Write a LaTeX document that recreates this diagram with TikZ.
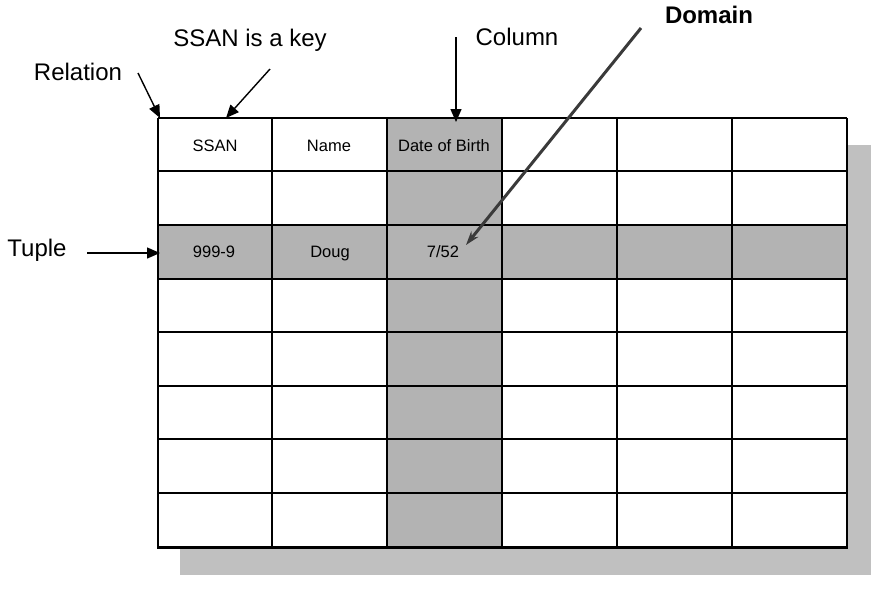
\documentclass[tikz,border=0pt]{standalone}
\usepackage{fontspec}
\setmainfont{Liberation Sans}
\usetikzlibrary{arrows.meta,calc}
\definecolor{cellGray}{HTML}{B3B3B3}
\definecolor{shadowGray}{HTML}{C0C0C0}
\definecolor{domColor}{HTML}{3A3A3A}
\newcommand{\celltext}{\fontsize{16.5}{18}\selectfont}
\newcommand{\labtext}{\fontsize{24}{28}\selectfont}

\begin{document}
\begin{tikzpicture}[x=1pt,y=-1pt,>={Triangle[length=13pt,width=11pt]},
 line width=1.4pt,
 grid/.style={line width=1.6pt},
 lab/.style={font=\labtext,inner sep=0pt},
 cell/.style={font=\celltext,inner sep=0pt,anchor=base}]
\useasboundingbox (0,0) rectangle (893,595);
% shadow and shaded cells
\fill[shadowGray] (180,145) rectangle (871,575);
\fill[white] (158,118) rectangle (847,547);
\fill[cellGray] (387,118) rectangle (502,547);
\fill[cellGray] (158,225) rectangle (847,279);
% grid
\foreach \x in {158,272,387,502,617,732,847}
 \draw[grid] (\x,118) -- (\x,547);
\foreach \y in {118,171,225,279,332,386,439,493}
 \draw[grid] (158,\y) -- (847,\y);
\draw[line width=3pt] (157,547) -- (848,547);

\node[cell] (ssan) at (215,151) {SSAN};
\node[cell] (name) at (329,151) {Name};
\node[cell] (dob) at (444,151) {Date of Birth};
\node[cell] (num) at (214,257) {999-9};
\node[cell] (doug) at (330,257) {Doug};
\node[cell] (date) at (443,257) {7/52};

\node[lab] (rel) at (78,72) {Relation};
\node[lab] (key) at (250,40) {SSAN is a key};
\node[lab] (col) at (517,37) {Column};
\node[lab,font=\labtext\bfseries] (dom) at (709,15) {Domain};
\node[lab] (tup) at (37,250) {Tuple};

% arrow ends
\coordinate (relstart) at (138,73);
\coordinate (corner) at (160,118);
\coordinate (keystart) at (270,69);
\coordinate (keyend) at (226,118);
\coordinate (colstart) at (456,37);
\coordinate (colend) at (456,122);
\coordinate (domstart) at (641,28);
\coordinate (domend) at (466,245);
\coordinate (tupstart) at (87,253);
\coordinate (tupend) at (160,253);

\draw[->] (relstart) -- (corner);
\draw[->] (keystart) -- (keyend);
\draw[->] (colstart) -- (colend);
\draw[domColor,line width=3pt,-{Stealth[length=14pt,width=9pt]}] (domstart) -- (domend);
\draw[->] (tupstart) -- (tupend);
\end{tikzpicture}
\end{document}
